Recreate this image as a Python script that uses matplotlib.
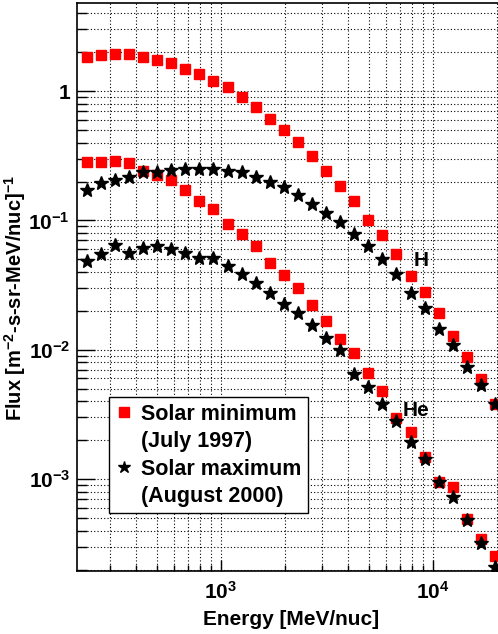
#!/usr/bin/env python
'''
plot.py
  Cosmic-ray H and He energy spectra at solar minimum and solar maximum.
  Writes the figure to out.png.
'''
import matplotlib
matplotlib.use('Agg')
import matplotlib.pyplot as plt
from matplotlib.lines import Line2D
from matplotlib.ticker import LogLocator, FixedLocator, FixedFormatter, NullFormatter

#
#   Data
#
# Kinetic energy per nucleon [MeV/nuc]
energy = [233, 272, 317, 369, 430, 501, 584, 681, 793, 924,
          1077, 1255, 1462, 1704, 1986, 2313, 2696, 3141, 3660, 4265,
          4970, 5791, 6748, 7863, 9163, 10677, 12441, 14497, 16892, 19684]

# Hydrogen flux, solar minimum (July 1997)
h_min = [1.83, 1.91, 1.94, 1.94, 1.83, 1.75, 1.66, 1.49, 1.36, 1.19,
         1.07, 0.899, 0.752, 0.612, 0.504, 0.404, 0.315, 0.241, 0.185, 0.141,
         0.1016, 0.0769, 0.0546, 0.0373, 0.0279, 0.0191, 0.0128, 0.00883, 0.00591, 0.00381]

# Hydrogen flux, solar maximum (August 2000)
h_max = [0.171, 0.195, 0.207, 0.217, 0.236, 0.236, 0.247, 0.248, 0.251, 0.252,
         0.241, 0.236, 0.216, 0.200, 0.181, 0.157, 0.135, 0.115, 0.0973, 0.0782,
         0.0635, 0.0501, 0.0384, 0.0277, 0.0209, 0.0146, 0.01087, 0.00739, 0.00533, 0.00379]

# Helium flux, solar minimum (July 1997)
he_min = [0.283, 0.283, 0.290, 0.277, 0.241, 0.223, 0.206, 0.173, 0.141, 0.1235,
          0.0946, 0.0782, 0.0632, 0.0473, 0.0377, 0.0301, 0.0221, 0.01666, 0.01203, 0.00948,
          0.00657, 0.00480, 0.00298, 0.00230, 0.001476, 0.000957, 0.000875, 0.000490, 0.000343, 0.000256]

# Helium flux, solar maximum (August 2000)
he_max = [0.0487, 0.0548, 0.0643, 0.0565, 0.0613, 0.0640, 0.0599, 0.0561, 0.0517, 0.0508,
          0.0443, 0.0384, 0.0326, 0.0276, 0.0227, 0.0191, 0.0155, 0.01225, 0.00995, 0.00649,
          0.00513, 0.00381, 0.00281, 0.00193, 0.001432, 0.000957, 0.000725, 0.000484, 0.000323, 0.000209]

y_ticks = [1e-3, 1e-2, 1e-1, 1]
y_tick_labels = [r'$10^{-3}$', r'$10^{-2}$', r'$10^{-1}$', '1']
x_ticks = [1e3, 1e4]
x_tick_labels = [r'$10^{3}$', r'$10^{4}$']


def main():
  # Bold Helvetica-like text everywhere, including the mathtext tick labels
  plt.rcParams['font.family'] = ['Liberation Sans', 'DejaVu Sans']
  plt.rcParams['font.weight'] = 'bold'
  plt.rcParams['mathtext.fontset'] = 'custom'
  plt.rcParams['mathtext.rm'] = 'Liberation Sans:bold'
  plt.rcParams['mathtext.bf'] = 'Liberation Sans:bold'
  plt.rcParams['mathtext.it'] = 'Liberation Sans:bold'
  plt.rcParams['mathtext.default'] = 'bf'

  fig = plt.figure(figsize=(4.98, 6.34), dpi=100)
  ax = fig.add_axes([0.1546, 0.0994, 0.8474, 0.8959])

  red_kw = dict(ls='none', marker='s', ms=6.5, color='#ff0000', mec='#ff0000', zorder=3)
  star_kw = dict(ls='none', marker='*', ms=10.5, color='black', mec='black', zorder=4)

  ax.plot(energy, h_min, **red_kw)
  ax.plot(energy, he_min, **red_kw)
  ax.plot(energy, h_max, **star_kw)
  ax.plot(energy, he_max, **star_kw)

  ax.set_xscale('log')
  ax.set_yscale('log')
  ax.set_xlim(210, 20540)
  ax.set_ylim(1.95e-4, 4.8)

  # Major ticks only labelled at the decades
  ax.xaxis.set_major_locator(FixedLocator(x_ticks))
  ax.xaxis.set_major_formatter(FixedFormatter(x_tick_labels))
  ax.yaxis.set_major_locator(FixedLocator(y_ticks))
  ax.yaxis.set_major_formatter(FixedFormatter(y_tick_labels))
  ax.xaxis.set_minor_locator(LogLocator(base=10, subs=range(2, 10)))
  ax.yaxis.set_minor_locator(LogLocator(base=10, subs=range(2, 10)))
  ax.xaxis.set_minor_formatter(NullFormatter())
  ax.yaxis.set_minor_formatter(NullFormatter())

  ax.tick_params(axis='both', which='both', direction='in', labelsize=15, width=1)
  ax.tick_params(axis='y', which='major', length=13, pad=5)
  ax.tick_params(axis='y', which='minor', length=7)
  ax.tick_params(axis='x', which='major', length=8, pad=7)
  ax.tick_params(axis='x', which='minor', length=4)

  # Dotted grid on every decade and sub-decade
  ax.grid(True, which='both', ls=(0, (1, 2)), color='black', lw=0.8, zorder=0)
  ax.set_axisbelow(True)

  for side in ax.spines.values():
    side.set_linewidth(1.2)

  ax.set_xlabel('Energy [MeV/nuc]', fontsize=15, fontweight='bold')
  ax.xaxis.set_label_coords(0.508, -0.068)
  ax.set_ylabel(r'Flux [m$^{-2}$-s-sr-MeV/nuc]$^{-1}$', fontsize=14.5, fontweight='bold')
  ax.yaxis.set_label_coords(-0.117, 0.48)

  # Species labels next to the curves
  ax.text(8850, 0.0493, 'H', fontsize=15, fontweight='bold', ha='center', va='center')
  ax.text(8340, 0.00342, 'He', fontsize=15, fontweight='bold', ha='center', va='center')

  # Legend: marker on the first line of each two-line entry
  blank = Line2D([], [], ls='none', marker='')
  handles = [Line2D([], [], ls='none', marker='s', ms=6.5, color='#ff0000'), blank,
             Line2D([], [], ls='none', marker='*', ms=9, color='black'), blank]
  labels = ['Solar minimum', '(July 1997)', 'Solar maximum', '(August 2000)']
  leg = ax.legend(handles, labels, loc='upper left', bbox_to_anchor=(0.076, 0.306),
                  borderaxespad=0, fancybox=False, framealpha=1, edgecolor='black',
                  fontsize=15.5, handlelength=0.8, handletextpad=0.4,
                  labelspacing=0.3, borderpad=0.3)
  leg.get_frame().set_linewidth(1.0)

  fig.savefig('out.png', dpi=100)


#
#   Main control flow
#
if __name__ == "__main__":
  main()
